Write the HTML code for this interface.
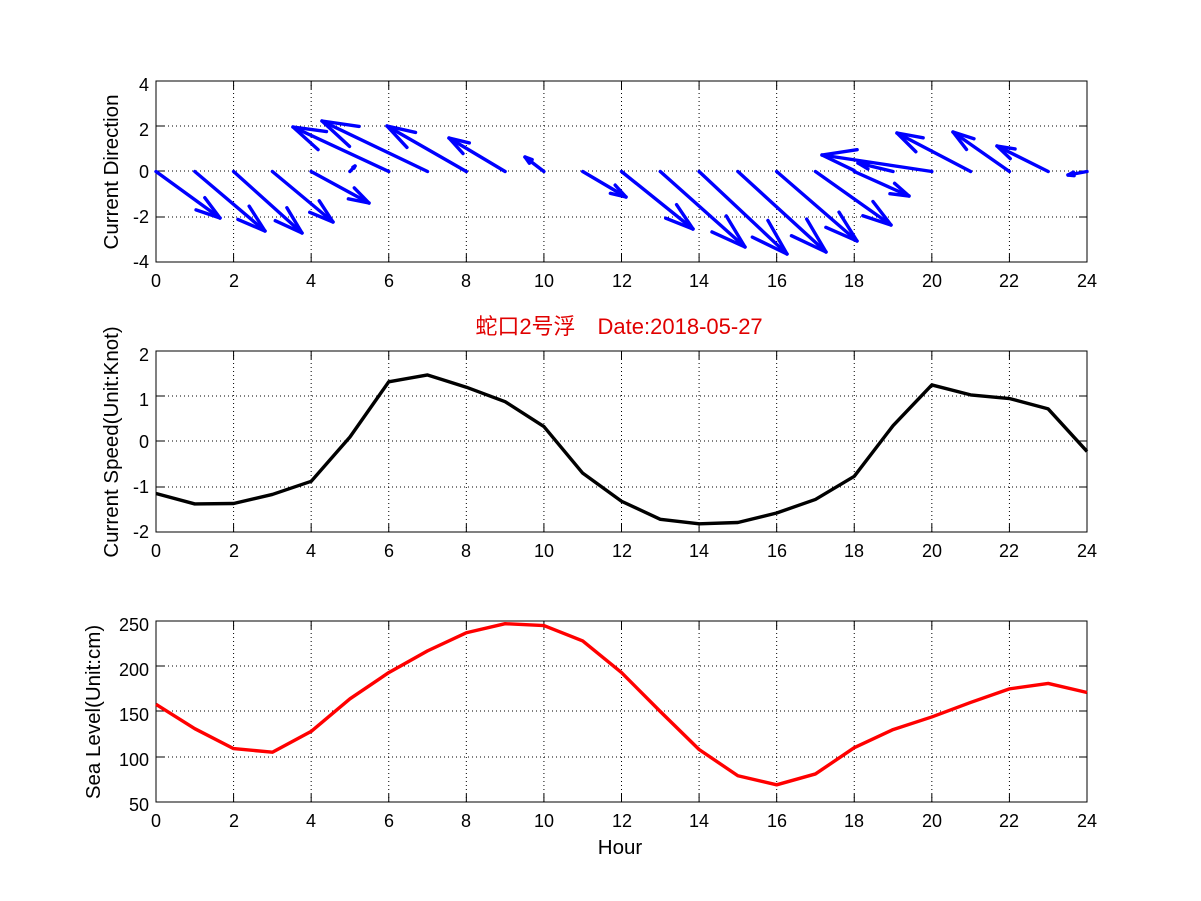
<!DOCTYPE html>
<html><head><meta charset="utf-8"><style>
html,body{margin:0;padding:0;background:#fff;}
svg{display:block;}
text{font-family:"Liberation Sans","Noto Sans CJK SC",sans-serif;font-size:18px;fill:#000;}
.lb{font-size:20.5px;}
</style></head><body>
<svg id="s" width="1201" height="901" viewBox="0 0 1201 901" xmlns="http://www.w3.org/2000/svg">
<rect width="1201" height="901" fill="#fff"/>
<g id="g"></g>
<g text-anchor="end">
<text x="149" y="91">4</text><text x="149" y="136">2</text><text x="149" y="178">0</text><text x="149" y="223">-2</text><text x="149" y="268">-4</text>
<text x="149" y="361">2</text><text x="149" y="406">1</text><text x="149" y="448">0</text><text x="149" y="493">-1</text><text x="149" y="538">-2</text>
<text x="149" y="631">250</text><text x="149" y="676">200</text><text x="149" y="721">150</text><text x="149" y="766">100</text><text x="149" y="811">50</text>
</g>
<g text-anchor="middle">
<text x="156" y="287">0</text><text x="234" y="287">2</text><text x="311" y="287">4</text><text x="389" y="287">6</text><text x="466" y="287">8</text><text x="544" y="287">10</text><text x="622" y="287">12</text><text x="699" y="287">14</text><text x="777" y="287">16</text><text x="854" y="287">18</text><text x="932" y="287">20</text><text x="1009" y="287">22</text><text x="1087" y="287">24</text>
<text x="156" y="557">0</text><text x="234" y="557">2</text><text x="311" y="557">4</text><text x="389" y="557">6</text><text x="466" y="557">8</text><text x="544" y="557">10</text><text x="622" y="557">12</text><text x="699" y="557">14</text><text x="777" y="557">16</text><text x="854" y="557">18</text><text x="932" y="557">20</text><text x="1009" y="557">22</text><text x="1087" y="557">24</text>
<text x="156" y="827">0</text><text x="234" y="827">2</text><text x="311" y="827">4</text><text x="389" y="827">6</text><text x="466" y="827">8</text><text x="544" y="827">10</text><text x="622" y="827">12</text><text x="699" y="827">14</text><text x="777" y="827">16</text><text x="854" y="827">18</text><text x="932" y="827">20</text><text x="1009" y="827">22</text><text x="1087" y="827">24</text>
<text class="lb" x="620" y="854">Hour</text>
<text x="619" y="334" style="fill:#e00000;font-size:22px">蛇口2号浮　Date:2018-05-27</text>
<text class="lb" transform="translate(118,172) rotate(-90)">Current Direction</text>
<text class="lb" transform="translate(118,442) rotate(-90)">Current Speed(Unit:Knot)</text>
<text class="lb" transform="translate(100,712) rotate(-90)">Sea Level(Unit:cm)</text>
</g>
</svg>
<script>
var g=document.getElementById('g'),NS='http://www.w3.org/2000/svg';
function el(t,a){var e=document.createElementNS(NS,t);for(var k in a)e.setAttribute(k,a[k]);g.appendChild(e);return e;}
var X0=156,X1=1087,dx=(X1-X0)/24;
function X(h){return X0+h*dx;}
var axes=[[81,262,[81,126,171,217,262]],[351,532,[351,396,441,487,532]],[621,802,[621,666,711,757,802]]];
axes.forEach(function(a){
 for(var i=1;i<12;i++){var x=X(i*2);el('line',{x1:x,y1:a[0],x2:x,y2:a[1],stroke:'#000','stroke-width':1,'stroke-dasharray':'1,3'});
  el('line',{x1:x,y1:a[0],x2:x,y2:a[0]+8,stroke:'#000'});el('line',{x1:x,y1:a[1],x2:x,y2:a[1]-8,stroke:'#000'});}
 a[2].forEach(function(y,i){if(i>0&&i<4)el('line',{x1:X0,y1:y,x2:X1,y2:y,stroke:'#000','stroke-dasharray':'1,3'});
  el('line',{x1:X0,y1:y,x2:X0+8,y2:y,stroke:'#000'});el('line',{x1:X1,y1:y,x2:X1-8,y2:y,stroke:'#000'});});
 el('rect',{x:X0,y:a[0],width:X1-X0,height:a[1]-a[0],fill:'none',stroke:'#000','stroke-width':1});
});
var tips=[[220,218],[265,231],[302,233],[333,222],[369,203],[355,166],[293,127],[322,121],[387,126],[449,138],[525,157],[626,197],[693,229],[745,247],[787,254],[826,252],[857,241],[891,225],[909,196],[858,163],[822,155],[897,133],[953,132],[997,146],[1068,175]];
tips.forEach(function(t,i){var x0=X(i),y0=171.5,x1=t[0],y1=t[1];
 el('line',{x1:x0,y1:y0,x2:x1,y2:y1,stroke:'#0000ff','stroke-width':3.4,'stroke-linecap':'round'});
 var vx=x1-x0,vy=y1-y0,L=Math.hypot(vx,vy);var hl=L*0.32,ang=Math.atan2(vy,vx);
 [0.3,-0.3].forEach(function(d){var a=ang+Math.PI+d;
  el('line',{x1:x1,y1:y1,x2:x1+hl*Math.cos(a),y2:y1+hl*Math.sin(a),stroke:'#0000ff','stroke-width':3.4,'stroke-linecap':'round'});});
});
var sp=[-1.15,-1.38,-1.37,-1.17,-0.88,0.1,1.32,1.47,1.2,0.88,0.33,-0.7,-1.32,-1.72,-1.82,-1.79,-1.58,-1.28,-0.77,0.35,1.25,1.03,0.95,0.72,-0.22];
el('polyline',{points:sp.map(function(v,i){return X(i)+','+(441.5-v*45.25)}).join(' '),fill:'none',stroke:'#000','stroke-width':3.4,'stroke-linejoin':'round'});
var sl=[158,131,109,105,128,164,193,217,237,247,245,228,193,150,108,79,69,81,110,130,144,160,175,181,171];
el('polyline',{points:sl.map(function(v,i){return X(i)+','+(802-(v-50)*0.905)}).join(' '),fill:'none',stroke:'#ff0000','stroke-width':3.4,'stroke-linejoin':'round'});
</script>
</body></html>
